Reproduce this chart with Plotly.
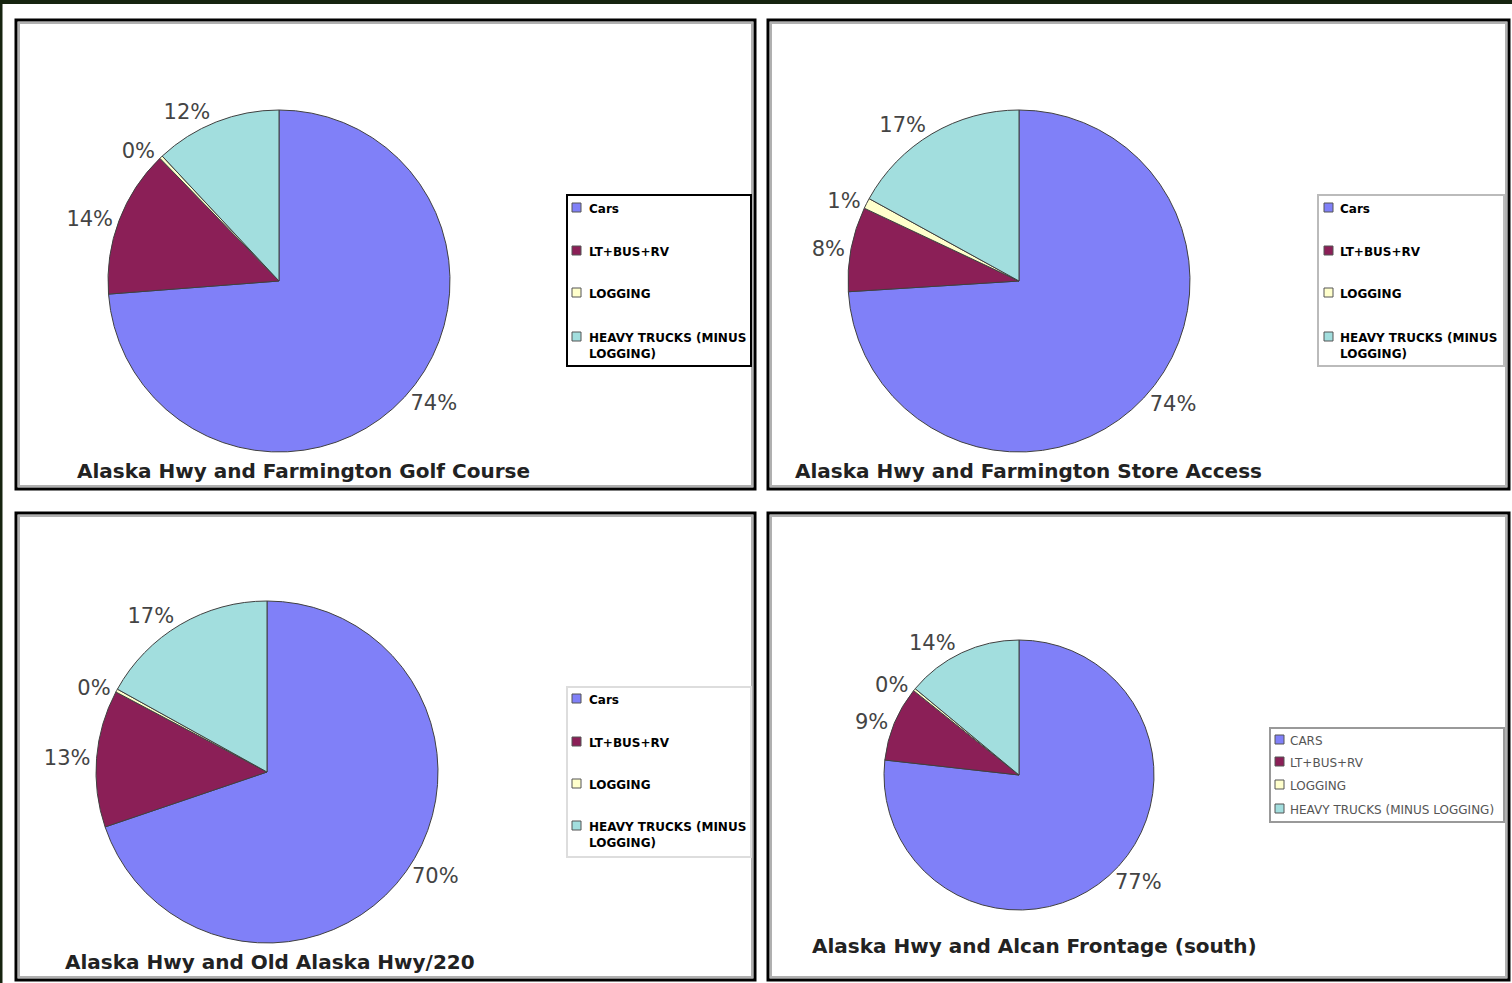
import plotly.graph_objects as go

# ---------------- data ----------------
categories = ["Cars", "LT+BUS+RV", "LOGGING", "HEAVY TRUCKS (MINUS LOGGING)"]
chart_titles = [
    "Alaska Hwy and Farmington Golf Course",
    "Alaska Hwy and Farmington Store Access",
    "Alaska Hwy and Old Alaska Hwy/220",
    "Alaska Hwy and Alcan Frontage (south)",
]
golf_course = [74, 14, 0.3, 12]
store_access = [74, 8, 1, 17]
old_alaska_hwy = [70, 13, 0.3, 17]
alcan_frontage = [77, 9, 0.3, 14]
series = [golf_course, store_access, old_alaska_hwy, alcan_frontage]

colors = ["#8080f8", "#8b1f57", "#ffffcc", "#a2dede"]

# ---------------- layout (pixel geometry) ----------------
W, H = 1512, 983
panels = [
    dict(box=(16, 20, 755, 489), c=(279, 281), r=171, title=(75, 471),
         leg=dict(box=(567, 195, 751, 366), rows=[208, 251, 293, 337], sw=572, tx=587,
                  border="#000000", size=12, bold=True, wrap=True, color="#000")),
    dict(box=(768, 20, 1509, 489), c=(1019, 281), r=171, title=(793, 471),
         leg=dict(box=(1318, 195, 1504, 366), rows=[208, 251, 293, 337], sw=1324, tx=1338,
                  border="#bbbbbb", size=12, bold=True, wrap=True, color="#000")),
    dict(box=(16, 513, 755, 980), c=(267, 772), r=171, title=(63, 962),
         leg=dict(box=(567, 687, 751, 857), rows=[699, 742, 784, 826], sw=572, tx=587,
                  border="#dddddd", size=12, bold=True, wrap=True, color="#000")),
    dict(box=(768, 513, 1509, 980), c=(1019, 775), r=135, title=(810, 946),
         leg=dict(box=(1270, 728, 1504, 822), rows=[740, 762, 785, 809], sw=1275, tx=1288,
                  border="#999999", size=12, bold=False, wrap=False, color="#555")),
]

FONT = "DejaVu Sans, Verdana, sans-serif"

fig = go.Figure()
shapes = []
annotations = []

# page decorations
shapes.append(dict(type="rect", xref="x", yref="y", x0=0, y0=0, x1=W, y1=4,
                   fillcolor="#16240f", line=dict(width=0), layer="below"))
shapes.append(dict(type="rect", xref="x", yref="y", x0=0, y0=0, x1=2.5, y1=H,
                   fillcolor="#16240f", line=dict(width=0), layer="below"))

for i, p in enumerate(panels):
    x0, y0, x1, y1 = p["box"]
    shapes.append(dict(type="rect", xref="x", yref="y", x0=x0 + 3, y0=y0 + 3, x1=x1 - 3, y1=y1 - 3,
                       line=dict(color="#b0b0b0", width=2), fillcolor="rgba(0,0,0,0)", layer="below"))
    shapes.append(dict(type="rect", xref="x", yref="y", x0=x0, y0=y0, x1=x1, y1=y1,
                       line=dict(color="#000000", width=3), fillcolor="rgba(0,0,0,0)", layer="below"))

    cx, cy = p["c"]
    r = p["r"]
    fig.add_trace(go.Pie(
        labels=categories,
        values=series[i],
        sort=False,
        direction="clockwise",
        rotation=0,
        marker=dict(colors=colors, line=dict(color="#404040", width=1)),
        textposition="outside",
        texttemplate="%{percent:.0%}",
        textfont=dict(family=FONT, size=21, color="#444444"),
        domain=dict(x=[(cx - r) / W, (cx + r) / W], y=[1 - (cy + r) / H, 1 - (cy - r) / H]),
        showlegend=False,
        hoverinfo="label+percent",
        name=chart_titles[i],
    ))

    tx, ty = p["title"]
    annotations.append(dict(xref="x", yref="y", x=tx, y=ty, xanchor="left", yanchor="middle",
                            text="<b>" + chart_titles[i] + "</b>", showarrow=False,
                            font=dict(family=FONT, size=20, color="#222222")))

    lg = p["leg"]
    lx0, ly0, lx1, ly1 = lg["box"]
    shapes.append(dict(type="rect", xref="x", yref="y", x0=lx0, y0=ly0, x1=lx1, y1=ly1,
                       line=dict(color=lg["border"], width=2), fillcolor="#ffffff"))
    for k, cat in enumerate(categories):
        ry = lg["rows"][k]
        shapes.append(dict(type="rect", xref="x", yref="y", x0=lg["sw"], y0=ry - 5, x1=lg["sw"] + 9,
                           y1=ry + 4, line=dict(color="#555555", width=1), fillcolor=colors[k]))
        label = cat
        if lg["wrap"] and cat.startswith("HEAVY"):
            label = "HEAVY TRUCKS (MINUS<br>LOGGING)"
        if not lg["bold"]:
            label = label.upper()
        if lg["bold"]:
            label = "<b>" + label + "</b>"
        annotations.append(dict(xref="x", yref="y", x=lg["tx"], y=ry - 8, xanchor="left", yanchor="top",
                                text=label, showarrow=False, align="left",
                                font=dict(family=FONT, size=lg["size"], color=lg["color"])))

fig.update_layout(
    width=W, height=H,
    margin=dict(l=0, r=0, t=0, b=0),
    paper_bgcolor="#ffffff",
    plot_bgcolor="rgba(0,0,0,0)",
    xaxis=dict(range=[0, W], visible=False, domain=[0, 1], fixedrange=True),
    yaxis=dict(range=[H, 0], visible=False, domain=[0, 1], fixedrange=True),
    shapes=shapes,
    annotations=annotations,
)

fig.write_html("out.html")
